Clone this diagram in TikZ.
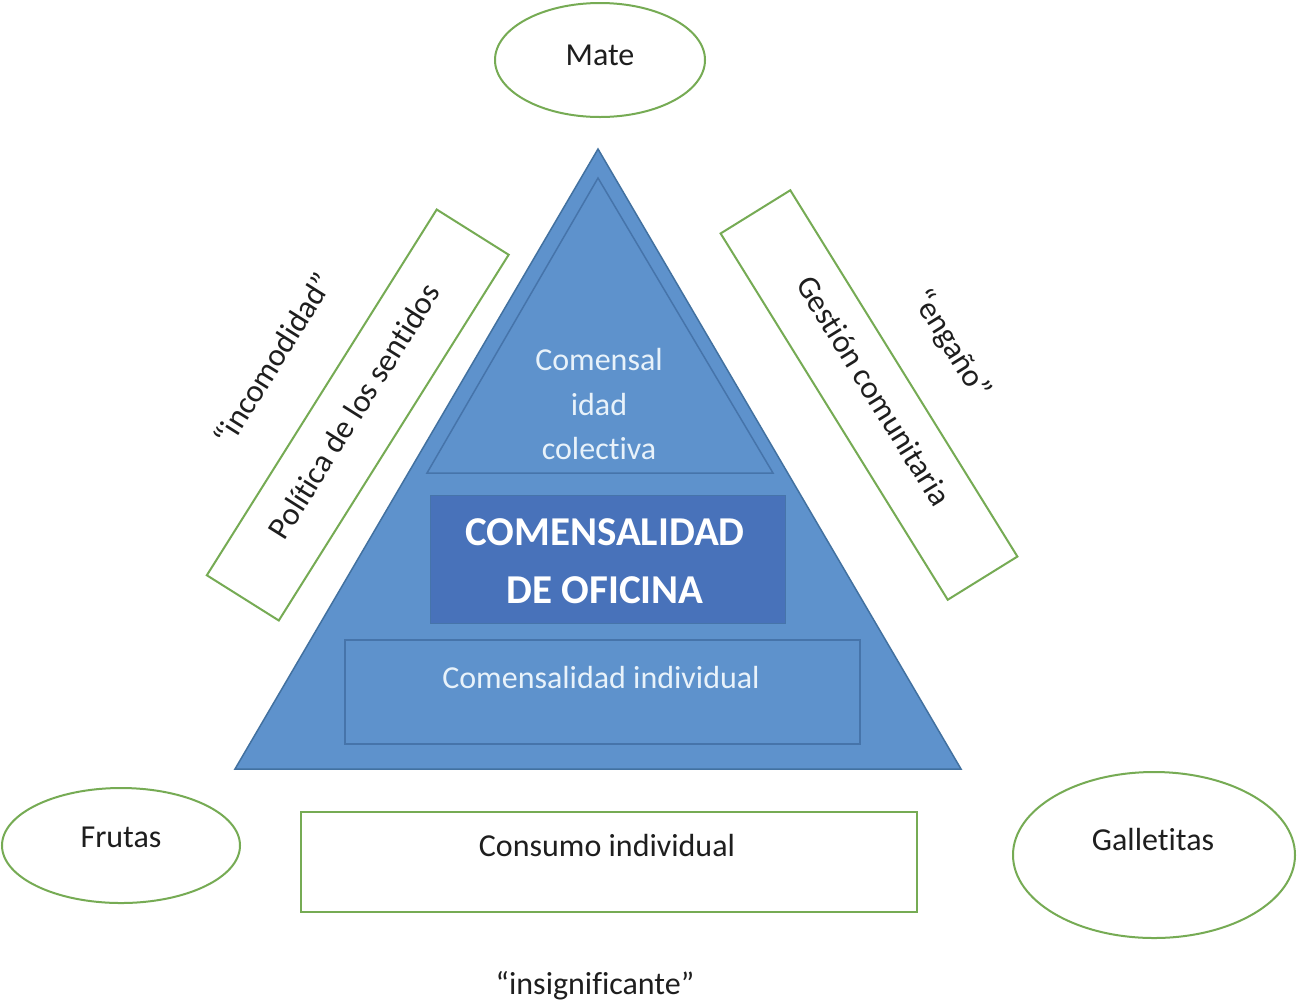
\documentclass[tikz,border=0pt]{standalone}
\usepackage{fontspec}
\setmainfont{Carlito}[RawFeature=-liga]
\usetikzlibrary{shapes.geometric}
\definecolor{triblue}{RGB}{94,146,204}
\definecolor{triedge}{RGB}{66,113,160}
\definecolor{inedge}{RGB}{70,116,170}
\definecolor{darkbox}{RGB}{72,114,186}
\definecolor{lighttext}{RGB}{232,242,250}
\definecolor{grn}{RGB}{118,171,84}
\definecolor{ink}{RGB}{30,30,30}
\tikzset{
  txt/.style={font=\fontsize{32}{44.5}\selectfont, text=ink, inner sep=0pt},
  intxt/.style={font=\fontsize{32}{44.5}\selectfont, text=lighttext, inner sep=0pt},
  oval/.style={ellipse, draw=grn, line width=2pt, fill=white, inner sep=0pt},
  gbox/.style={rectangle, draw=grn, line width=2pt, fill=white, inner sep=0pt},
}
\begin{document}
\begin{tikzpicture}[x=1pt,y=-1pt]
\useasboundingbox (0,0) rectangle (1297,1005);
\fill[white] (0,0) rectangle (1297,1005);

% main triangle
\coordinate (apex) at (598,149);
\coordinate (bl) at (235,769);
\coordinate (br) at (961,769);
\draw[fill=triblue, draw=triedge, line width=1.5pt, line join=miter] (apex) -- (bl) -- (br) -- cycle;

% inner triangle
\coordinate (iapex) at (598,178);
\coordinate (ibl) at (427,473);
\coordinate (ibr) at (773,473);
\draw[draw=inedge, line width=1.5pt] (iapex) -- (ibl) -- (ibr) -- cycle;

% dark box
\node[rectangle, fill=darkbox, draw=inedge, line width=1pt, minimum width=355, minimum height=128, inner sep=0pt] (ofi) at (607.5,559) {};
% individual box
\node[rectangle, draw=inedge, line width=1.5pt, minimum width=515, minimum height=104, inner sep=0pt] (indiv) at (602.5,692) {};

% texts inside
\node[intxt, align=center] (colect) at (599,404) {Comensal\\idad\\colectiva};
\node[font=\fontsize{41}{58}\selectfont\bfseries, text=white, align=center, inner sep=0pt] (ofitxt) at (605,561) {COMENSALIDAD\\DE OFICINA};
\node[intxt, anchor=base] (indivtxt) at (601,688) {Comensalidad individual};

% rotated boxes
\node[gbox, minimum width=432, minimum height=85, rotate=57.85] (polbox) at (357.75,415) {};
\node[txt, rotate=57.85] (poltxt) at (354,411) {Política de los sentidos};
\node[txt, rotate=57.85] (incom) at (273,359) {“incomodidad”};

\node[gbox, minimum width=431, minimum height=82, rotate=-58.2] (gesbox) at (869,395) {};
\node[txt, rotate=-58.2] (gestxt) at (874,391) {Gestión comunitaria};
\node[txt, rotate=-58.2] (engano) at (951,345) {“engaño”};

% ellipses
\node[oval, minimum width=210, minimum height=114] (mate) at (600,60) {};
\node[txt, anchor=base] (matetxt) at (600,65) {Mate};

\node[oval, minimum width=238, minimum height=115] (frutas) at (121,845.5) {};
\node[txt, anchor=base] (frutastxt) at (121,847) {Frutas};

\node[oval, minimum width=282, minimum height=166] (gall) at (1154,855) {};
\node[txt, anchor=base] (galltxt) at (1153,850) {Galletitas};

% consumo box
\node[gbox, minimum width=616, minimum height=100] (consbox) at (609,862) {};
\node[txt, anchor=base] (constxt) at (607,856) {Consumo individual};

\node[txt, anchor=base] (insig) at (595,994) {“insignificante”};
\end{tikzpicture}
\end{document}
